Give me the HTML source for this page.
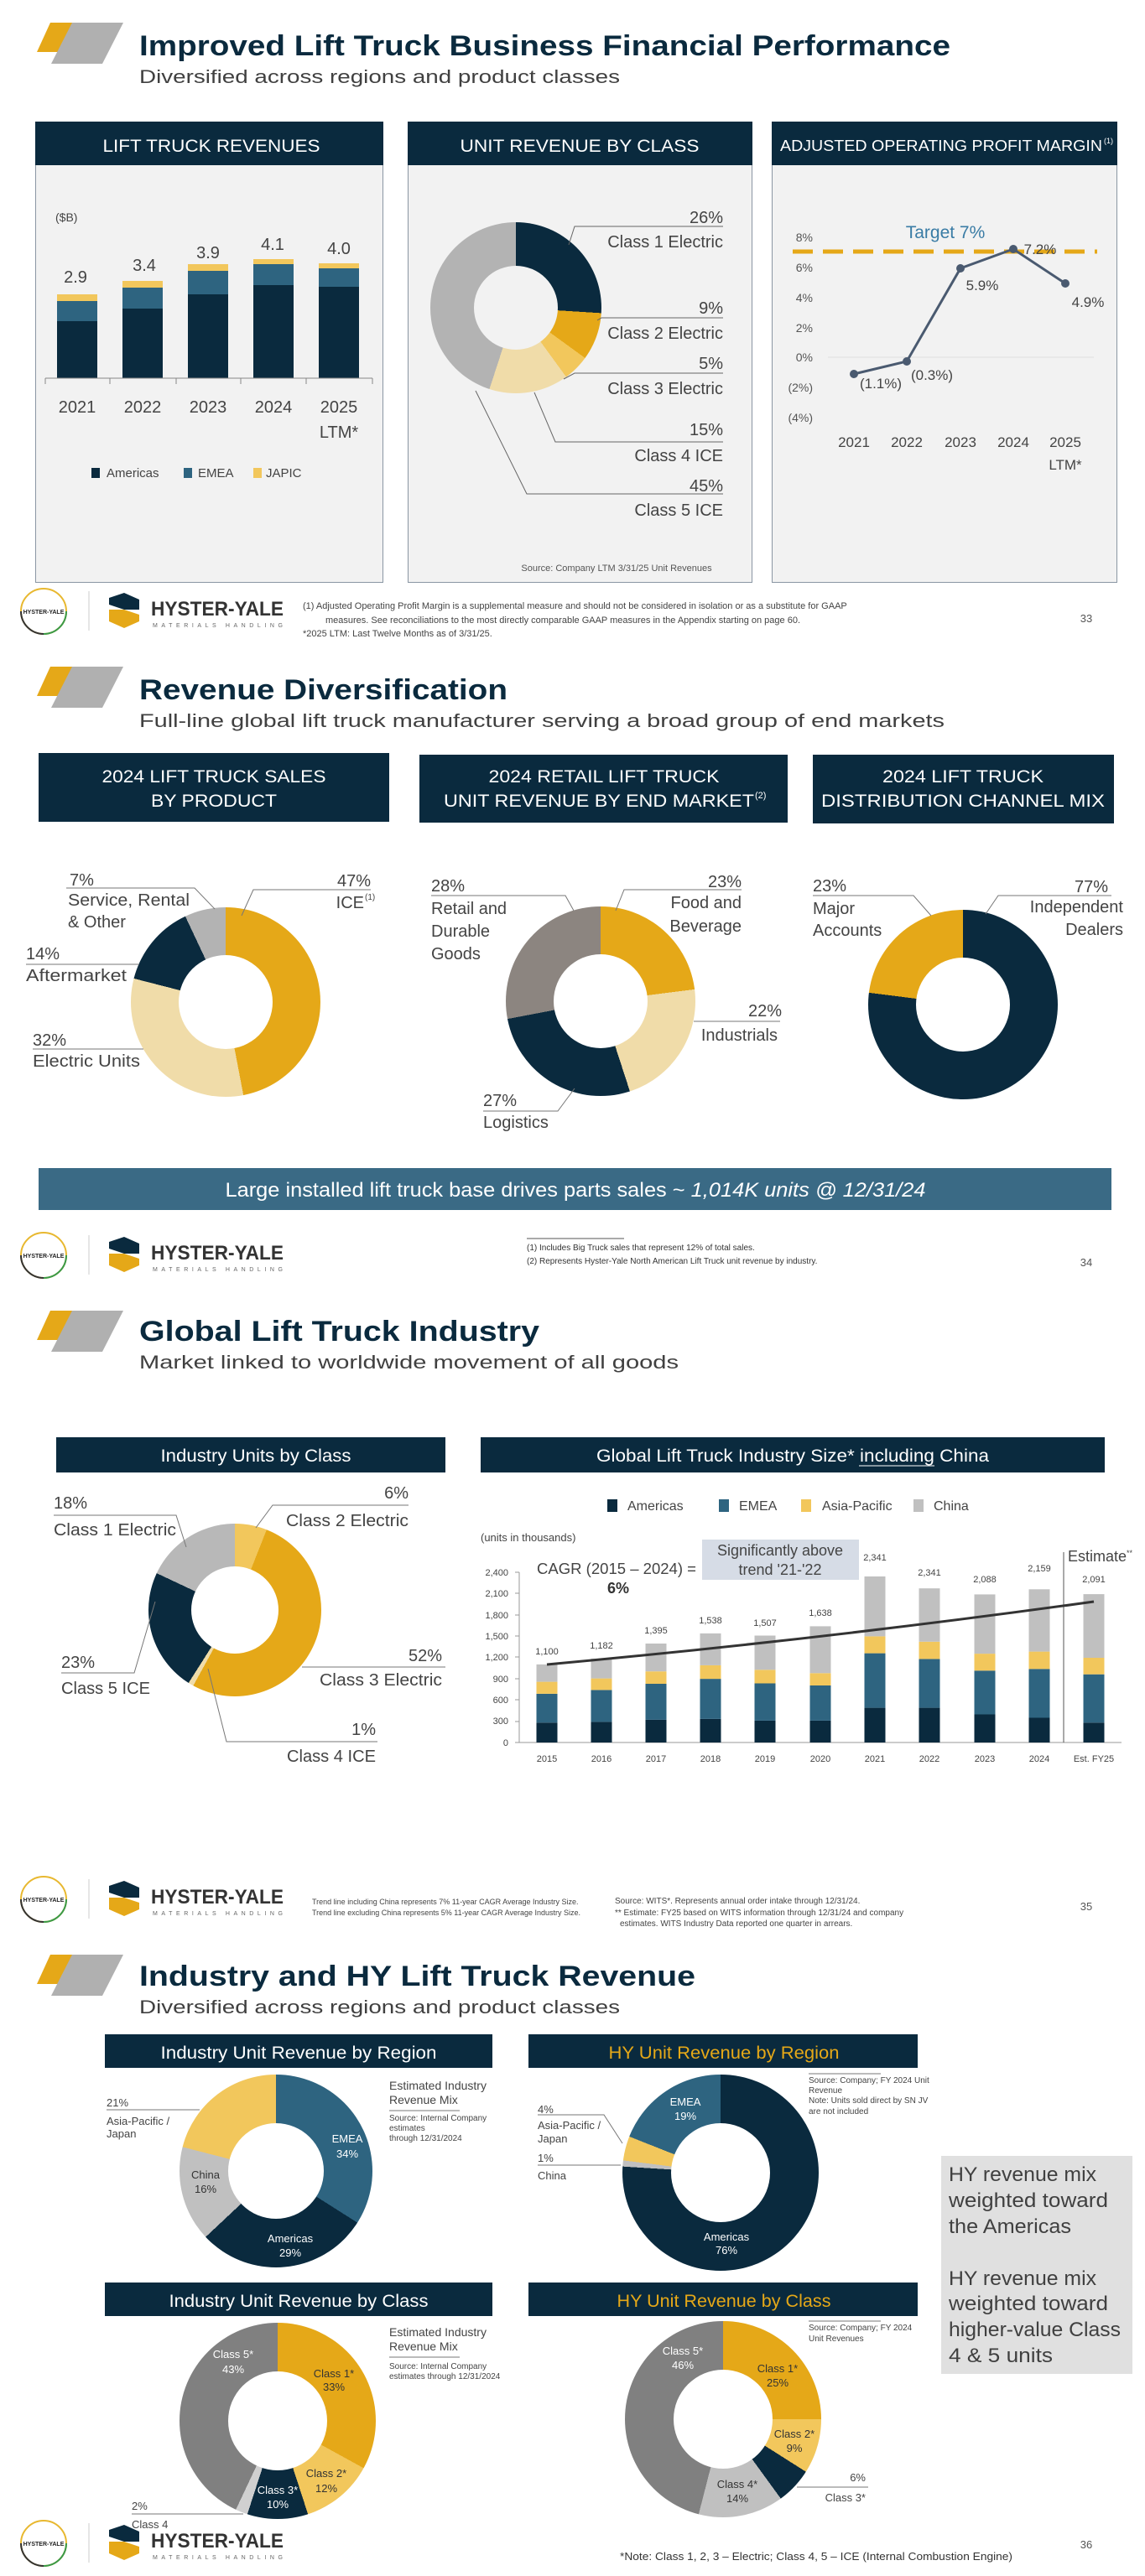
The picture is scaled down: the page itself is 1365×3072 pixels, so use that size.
<!DOCTYPE html>
<html><head><meta charset="utf-8"><style>
html,body{margin:0;padding:0;background:#fff;}
body{position:relative;width:1365px;height:3072px;overflow:hidden;font-family:"Liberation Sans",sans-serif;}
.p{position:absolute;background:#f2f2f2;border:1px solid #8a96a3;box-sizing:border-box;z-index:0}
.d{position:absolute;border-radius:50%;z-index:1}
.h{position:absolute;border-radius:50%;background:#fff;z-index:1}
svg{position:absolute;left:0;top:0;z-index:2}
</style></head><body>
<div class="p" style="left:42px;top:145px;width:415px;height:550px"></div>
<div class="p" style="left:486px;top:145px;width:411px;height:550px"></div>
<div class="p" style="left:920px;top:145px;width:412px;height:550px"></div>

<div class="d" style="left:513px;top:265px;width:204px;height:204px;background:conic-gradient(#0a2a3e 0 26%,#e5a818 0 35%,#f2c75c 0 40%,#f0dca9 0 55%,#b3b3b3 0 100%)"></div>
<div class="h" style="left:565px;top:317px;width:100px;height:100px;background:#f2f2f2"></div>

<div class="d" style="left:156px;top:1082px;width:226px;height:226px;background:conic-gradient(#e5a818 0 47%,#f0dca9 0 79%,#0a2a3e 0 93%,#b3b3b3 0 100%)"></div>
<div class="h" style="left:213px;top:1139px;width:112px;height:112px"></div>
<div class="d" style="left:603px;top:1081px;width:226px;height:226px;background:conic-gradient(#e5a818 0 23%,#f0dca9 0 45%,#0a2a3e 0 72%,#8c8580 0 100%)"></div>
<div class="h" style="left:660px;top:1138px;width:112px;height:112px"></div>
<div class="d" style="left:1035px;top:1085px;width:226px;height:226px;background:conic-gradient(#0a2a3e 0 77%,#e5a818 0 100%)"></div>
<div class="h" style="left:1092px;top:1142px;width:112px;height:112px"></div>

<div class="d" style="left:177px;top:1817px;width:206px;height:206px;background:conic-gradient(#f2c75c 0 6%,#e5a818 0 58%,#f0dca9 0 59%,#0a2a3e 0 82%,#b8b8b8 0 100%)"></div>
<div class="h" style="left:228px;top:1868px;width:104px;height:104px"></div>

<div class="d" style="left:214px;top:2474px;width:230px;height:230px;background:conic-gradient(#2e6480 0 34%,#0a2a3e 0 63%,#c0c0c0 0 79%,#f2c75c 0 100%)"></div>
<div class="h" style="left:272px;top:2532px;width:114px;height:114px"></div>
<div class="d" style="left:742px;top:2474px;width:234px;height:234px;background:conic-gradient(#0a2a3e 0 76%,#c0c0c0 0 77%,#f2c75c 0 81%,#2e6480 0 100%)"></div>
<div class="h" style="left:800px;top:2532px;width:118px;height:118px"></div>
<div class="d" style="left:214px;top:2770px;width:234px;height:234px;background:conic-gradient(#e5a818 0 33%,#f2c75c 0 45%,#0a2a3e 0 55%,#d0d0d0 0 57%,#808080 0 100%)"></div>
<div class="h" style="left:272px;top:2828px;width:118px;height:118px"></div>
<div class="d" style="left:745px;top:2768px;width:234px;height:234px;background:conic-gradient(#e5a818 0 25%,#f2c75c 0 34%,#0a2a3e 0 40%,#c0c0c0 0 54%,#808080 0 100%)"></div>
<div class="h" style="left:803px;top:2826px;width:118px;height:118px"></div>

<svg width="1365" height="3072" viewBox="0 0 1365 3072" font-family="Liberation Sans, sans-serif">
<!-- ===== headers (4 slides) ===== -->
<g id="hd">
<polygon points="60,27 92,27 76,62 44,62" fill="#e5a818"/>
<polygon points="86,27 147,27 122,76 61,76" fill="#b0b0b0"/>
</g>
<g transform="translate(0,768)"><polygon points="60,27 92,27 76,62 44,62" fill="#e5a818"/><polygon points="86,27 147,27 122,76 61,76" fill="#b0b0b0"/></g>
<g transform="translate(0,1536)"><polygon points="60,27 92,27 76,62 44,62" fill="#e5a818"/><polygon points="86,27 147,27 122,76 61,76" fill="#b0b0b0"/></g>
<g transform="translate(0,2304)"><polygon points="60,27 92,27 76,62 44,62" fill="#e5a818"/><polygon points="86,27 147,27 122,76 61,76" fill="#b0b0b0"/></g>

<g fill="#0a2a3e" font-weight="bold" font-size="34">
<text x="166" y="66" textLength="967" lengthAdjust="spacingAndGlyphs">Improved Lift Truck Business Financial Performance</text>
<text x="166" y="834" textLength="439" lengthAdjust="spacingAndGlyphs">Revenue Diversification</text>
<text x="166" y="1599" textLength="477" lengthAdjust="spacingAndGlyphs">Global Lift Truck Industry</text>
<text x="166" y="2368" textLength="663" lengthAdjust="spacingAndGlyphs">Industry and HY Lift Truck Revenue</text>
</g>
<g fill="#404040" font-size="22">
<text x="166" y="99" textLength="573" lengthAdjust="spacingAndGlyphs">Diversified across regions and product classes</text>
<text x="166" y="867" textLength="960" lengthAdjust="spacingAndGlyphs">Full-line global lift truck manufacturer serving a broad group of end markets</text>
<text x="166" y="1632" textLength="643" lengthAdjust="spacingAndGlyphs">Market linked to worldwide movement of all goods</text>
<text x="166" y="2401" textLength="573" lengthAdjust="spacingAndGlyphs">Diversified across regions and product classes</text>
</g>

<!-- ===== footers ===== -->
<g id="ft0">
<circle cx="52" cy="729" r="27" fill="none" stroke="#e8b830" stroke-width="2"/>
<path d="M79 729 A27 27 0 0 1 52 756" fill="none" stroke="#3a9a48" stroke-width="2"/>
<path d="M52 756 A27 27 0 0 1 25 729" fill="none" stroke="#333" stroke-width="2"/>
<text x="52" y="732" font-size="7" font-weight="bold" text-anchor="middle" fill="#222">HYSTER-YALE</text>
<line x1="106" y1="705" x2="106" y2="752" stroke="#ccc"/>
<polygon points="148,707 166,715 166,727 148,727 130,721 130,713" fill="#0a2a3e"/>
<polygon points="130,727 148,727 166,733 166,741 148,749 130,741" fill="#e5a818"/>
<text x="180" y="734" font-size="24" font-weight="bold" fill="#333" textLength="158" lengthAdjust="spacingAndGlyphs">HYSTER-YALE</text>
<text x="182" y="748" font-size="7" fill="#666" textLength="155" lengthAdjust="spacing">MATERIALS HANDLING</text>
</g>
<g transform="translate(0,768)">
<circle cx="52" cy="729" r="27" fill="none" stroke="#e8b830" stroke-width="2"/>
<path d="M79 729 A27 27 0 0 1 52 756" fill="none" stroke="#3a9a48" stroke-width="2"/>
<path d="M52 756 A27 27 0 0 1 25 729" fill="none" stroke="#333" stroke-width="2"/>
<text x="52" y="732" font-size="7" font-weight="bold" text-anchor="middle" fill="#222">HYSTER-YALE</text>
<line x1="106" y1="705" x2="106" y2="752" stroke="#ccc"/>
<polygon points="148,707 166,715 166,727 148,727 130,721 130,713" fill="#0a2a3e"/>
<polygon points="130,727 148,727 166,733 166,741 148,749 130,741" fill="#e5a818"/>
<text x="180" y="734" font-size="24" font-weight="bold" fill="#333" textLength="158" lengthAdjust="spacingAndGlyphs">HYSTER-YALE</text>
<text x="182" y="748" font-size="7" fill="#666" textLength="155" lengthAdjust="spacing">MATERIALS HANDLING</text>
</g>
<g transform="translate(0,1536)">
<circle cx="52" cy="729" r="27" fill="none" stroke="#e8b830" stroke-width="2"/>
<path d="M79 729 A27 27 0 0 1 52 756" fill="none" stroke="#3a9a48" stroke-width="2"/>
<path d="M52 756 A27 27 0 0 1 25 729" fill="none" stroke="#333" stroke-width="2"/>
<text x="52" y="732" font-size="7" font-weight="bold" text-anchor="middle" fill="#222">HYSTER-YALE</text>
<line x1="106" y1="705" x2="106" y2="752" stroke="#ccc"/>
<polygon points="148,707 166,715 166,727 148,727 130,721 130,713" fill="#0a2a3e"/>
<polygon points="130,727 148,727 166,733 166,741 148,749 130,741" fill="#e5a818"/>
<text x="180" y="734" font-size="24" font-weight="bold" fill="#333" textLength="158" lengthAdjust="spacingAndGlyphs">HYSTER-YALE</text>
<text x="182" y="748" font-size="7" fill="#666" textLength="155" lengthAdjust="spacing">MATERIALS HANDLING</text>
</g>
<g transform="translate(0,2304)">
<circle cx="52" cy="729" r="27" fill="none" stroke="#e8b830" stroke-width="2"/>
<path d="M79 729 A27 27 0 0 1 52 756" fill="none" stroke="#3a9a48" stroke-width="2"/>
<path d="M52 756 A27 27 0 0 1 25 729" fill="none" stroke="#333" stroke-width="2"/>
<text x="52" y="732" font-size="7" font-weight="bold" text-anchor="middle" fill="#222">HYSTER-YALE</text>
<line x1="106" y1="705" x2="106" y2="752" stroke="#ccc"/>
<polygon points="148,707 166,715 166,727 148,727 130,721 130,713" fill="#0a2a3e"/>
<polygon points="130,727 148,727 166,733 166,741 148,749 130,741" fill="#e5a818"/>
<text x="180" y="734" font-size="24" font-weight="bold" fill="#333" textLength="158" lengthAdjust="spacingAndGlyphs">HYSTER-YALE</text>
<text x="182" y="748" font-size="7" fill="#666" textLength="155" lengthAdjust="spacing">MATERIALS HANDLING</text>
</g>
<g font-size="13" fill="#555" text-anchor="middle">
<text x="1295" y="742">33</text><text x="1295" y="1510">34</text><text x="1295" y="2278">35</text><text x="1295" y="3039">36</text>
</g>

<!-- ===== SLIDE 1 ===== -->
<rect x="42" y="145" width="415" height="52" fill="#0a2a3e"/>
<rect x="486" y="145" width="411" height="52" fill="#0a2a3e"/>
<rect x="920" y="145" width="412" height="52" fill="#0a2a3e"/>
<g fill="#fff" font-size="21" text-anchor="middle">
<text x="252" y="181" textLength="259" lengthAdjust="spacingAndGlyphs">LIFT TRUCK REVENUES</text>
<text x="691" y="181" textLength="285" lengthAdjust="spacingAndGlyphs">UNIT REVENUE BY CLASS</text>
<text x="1122" y="180" font-size="18" textLength="384" lengthAdjust="spacingAndGlyphs">ADJUSTED OPERATING PROFIT MARGIN</text>
</g>
<text x="1316" y="171" fill="#fff" font-size="9">(1)</text>
<text x="66" y="264" font-size="14" fill="#444">($B)</text>
<g>
<rect x="68" y="351" width="48" height="8" fill="#f2c75c"/><rect x="68" y="359" width="48" height="24" fill="#2e6480"/><rect x="68" y="383" width="48" height="68" fill="#0a2a3e"/>
<rect x="146" y="335" width="48" height="8" fill="#f2c75c"/><rect x="146" y="343" width="48" height="25" fill="#2e6480"/><rect x="146" y="368" width="48" height="83" fill="#0a2a3e"/>
<rect x="224" y="315" width="48" height="8" fill="#f2c75c"/><rect x="224" y="323" width="48" height="28" fill="#2e6480"/><rect x="224" y="351" width="48" height="100" fill="#0a2a3e"/>
<rect x="302" y="309" width="48" height="6" fill="#f2c75c"/><rect x="302" y="315" width="48" height="25" fill="#2e6480"/><rect x="302" y="340" width="48" height="111" fill="#0a2a3e"/>
<rect x="380" y="314" width="48" height="6" fill="#f2c75c"/><rect x="380" y="320" width="48" height="22" fill="#2e6480"/><rect x="380" y="342" width="48" height="109" fill="#0a2a3e"/>
</g>
<path d="M54 451H444M54 451v7M131 451v7M210 451v7M287 451v7M365 451v7M444 451v7" stroke="#888" fill="none"/>
<g font-size="20" fill="#444" text-anchor="middle">
<text x="90" y="337">2.9</text><text x="172" y="323">3.4</text><text x="248" y="308">3.9</text><text x="325" y="298">4.1</text><text x="404" y="303">4.0</text>
<text x="92" y="492">2021</text><text x="170" y="492">2022</text><text x="248" y="492">2023</text><text x="326" y="492">2024</text><text x="404" y="492">2025</text><text x="404" y="522">LTM*</text>
</g>
<rect x="109" y="558" width="10" height="12" fill="#0a2a3e"/><rect x="219" y="558" width="10" height="12" fill="#2e6480"/><rect x="302" y="558" width="10" height="12" fill="#f2c75c"/>
<g font-size="15" fill="#444"><text x="127" y="569">Americas</text><text x="236" y="569">EMEA</text><text x="317" y="569">JAPIC</text></g>
<!-- donut labels -->
<g stroke="#666" fill="none" stroke-width="1">
<path d="M862 270H685L678 292"/><path d="M862 379H717L712 382"/><path d="M862 445H685L672 452"/><path d="M862 527H662L637 468"/><path d="M862 589H628L567 466"/>
</g>
<g font-size="20" fill="#444" text-anchor="end">
<text x="862" y="266">26%</text><text x="862" y="295">Class 1 Electric</text>
<text x="862" y="374">9%</text><text x="862" y="404">Class 2 Electric</text>
<text x="862" y="440">5%</text><text x="862" y="470">Class 3 Electric</text>
<text x="862" y="519">15%</text><text x="862" y="550">Class 4 ICE</text>
<text x="862" y="586">45%</text><text x="862" y="615">Class 5 ICE</text>
</g>
<text x="735" y="681" font-size="11" fill="#555" text-anchor="middle">Source: Company LTM 3/31/25 Unit Revenues</text>
<!-- line chart -->
<line x1="987" y1="426" x2="1304" y2="426" stroke="#ddd"/>
<line x1="945" y1="300" x2="1308" y2="300" stroke="#e5a818" stroke-width="5" stroke-dasharray="24,12"/>
<g font-size="14" fill="#555" text-anchor="end">
<text x="969" y="288">8%</text><text x="969" y="324">6%</text><text x="969" y="360">4%</text><text x="969" y="396">2%</text><text x="969" y="431">0%</text><text x="969" y="467">(2%)</text><text x="969" y="503">(4%)</text>
</g>
<text x="1127" y="284" font-size="21" fill="#3a7ca5" text-anchor="middle">Target 7%</text>
<polyline points="1018,446 1081,431 1145,320 1208,297 1270,338" fill="none" stroke="#4a5a70" stroke-width="3"/>
<g fill="#4a5a70"><circle cx="1018" cy="446" r="5"/><circle cx="1081" cy="431" r="5"/><circle cx="1145" cy="320" r="5"/><circle cx="1208" cy="297" r="5"/><circle cx="1270" cy="338" r="5"/></g>
<g font-size="17" fill="#444" text-anchor="middle">
<text x="1050" y="463">(1.1%)</text><text x="1111" y="453">(0.3%)</text><text x="1171" y="346">5.9%</text><text x="1240" y="303">7.2%</text><text x="1297" y="366">4.9%</text>
<text x="1018" y="533">2021</text><text x="1081" y="533">2022</text><text x="1145" y="533">2023</text><text x="1208" y="533">2024</text><text x="1270" y="533">2025</text><text x="1270" y="560">LTM*</text>
</g>
<g font-size="11" fill="#444">
<text x="361" y="726">(1)  Adjusted Operating Profit Margin is a supplemental measure and should not be considered in isolation or as a substitute for GAAP</text>
<text x="388" y="743">measures. See reconciliations to the most directly comparable GAAP measures in the Appendix starting on page 60.</text>
<text x="361" y="759">*2025 LTM: Last Twelve Months as of 3/31/25.</text>
</g>

<!-- ===== SLIDE 2 ===== -->
<rect x="46" y="898" width="418" height="82" fill="#0a2a3e"/>
<rect x="500" y="900" width="439" height="81" fill="#0a2a3e"/>
<rect x="969" y="900" width="359" height="82" fill="#0a2a3e"/>
<g fill="#fff" font-size="21" text-anchor="middle">
<text x="255" y="933" textLength="267" lengthAdjust="spacingAndGlyphs">2024 LIFT TRUCK SALES</text>
<text x="255" y="962" textLength="150" lengthAdjust="spacingAndGlyphs">BY PRODUCT</text>
<text x="720" y="933" textLength="275" lengthAdjust="spacingAndGlyphs">2024 RETAIL LIFT TRUCK</text>
<text x="714" y="962" textLength="370" lengthAdjust="spacingAndGlyphs">UNIT REVENUE BY END MARKET</text>
<text x="1148" y="933" textLength="192" lengthAdjust="spacingAndGlyphs">2024 LIFT TRUCK</text>
<text x="1148" y="962" textLength="338" lengthAdjust="spacingAndGlyphs">DISTRIBUTION CHANNEL MIX</text>
</g>
<text x="900" y="952" fill="#fff" font-size="11">(2)</text>
<g stroke="#777" fill="none">
<path d="M79 1059H232L256 1084"/><path d="M442 1061H302L288 1092"/><path d="M31 1150H166"/><path d="M39 1251H171"/>
<path d="M884 1061H744L734 1086"/><path d="M514 1068H674L684 1086"/><path d="M827 1218H930"/><path d="M576 1325H665L685 1298"/>
<path d="M969 1068H1089L1110 1092"/><path d="M1325 1068H1190L1175 1090"/>
</g>
<g font-size="20" fill="#444">
<text x="83" y="1056">7%</text><text x="81" y="1080" textLength="145" lengthAdjust="spacingAndGlyphs">Service, Rental</text><text x="81" y="1106">&amp; Other</text>
<text x="31" y="1144">14%</text><text x="31" y="1170" textLength="120" lengthAdjust="spacingAndGlyphs">Aftermarket</text>
<text x="39" y="1247">32%</text><text x="39" y="1272" textLength="128" lengthAdjust="spacingAndGlyphs">Electric Units</text>
<text x="514" y="1063">28%</text><text x="514" y="1090">Retail and</text><text x="514" y="1117">Durable</text><text x="514" y="1144">Goods</text>
<text x="576" y="1319">27%</text><text x="576" y="1345">Logistics</text>
<text x="969" y="1063">23%</text><text x="969" y="1090">Major</text><text x="969" y="1116">Accounts</text>
</g>
<g font-size="20" fill="#444" text-anchor="end">
<text x="442" y="1057">47%</text><text x="434" y="1083">ICE</text>
<text x="884" y="1058">23%</text><text x="884" y="1083">Food and</text><text x="884" y="1111">Beverage</text>
<text x="932" y="1212">22%</text><text x="927" y="1241">Industrials</text>
<text x="1321" y="1064">77%</text><text x="1339" y="1088">Independent</text><text x="1339" y="1115">Dealers</text>
</g>
<text x="435" y="1073" font-size="10" fill="#444">(1)</text>
<rect x="46" y="1393" width="1279" height="50" fill="#3a6a85"/>
<text x="686" y="1427" font-size="24" fill="#fff" text-anchor="middle" textLength="835" lengthAdjust="spacingAndGlyphs">Large installed lift truck base drives parts sales ~ <tspan font-style="italic">1,014K units @ 12/31/24</tspan></text>
<line x1="628" y1="1477" x2="744" y2="1477" stroke="#555"/>
<g font-size="10" fill="#333">
<text x="628" y="1491">(1)   Includes Big Truck sales that represent 12% of total sales.</text>
<text x="628" y="1507">(2)   Represents Hyster-Yale North American Lift Truck unit revenue by industry.</text>
</g>

<!-- ===== SLIDE 3 ===== -->
<rect x="67" y="1714" width="464" height="42" fill="#0a2a3e"/>
<rect x="573" y="1714" width="744" height="42" fill="#0a2a3e"/>
<g fill="#fff" font-size="21" text-anchor="middle">
<text x="305" y="1743" textLength="227" lengthAdjust="spacingAndGlyphs">Industry Units by Class</text>
<text x="945" y="1743" textLength="468" lengthAdjust="spacingAndGlyphs">Global Lift Truck Industry Size* including China</text>
</g>
<line x1="1024" y1="1748" x2="1114" y2="1748" stroke="#fff"/>
<g stroke="#777" fill="none">
<path d="M64 1807H210L222 1845"/><path d="M487 1795H325L305 1822"/><path d="M531 1988H360"/><path d="M450 2077H270L248 1990"/><path d="M73 1995H160L185 1910"/>
</g>
<g font-size="20" fill="#444">
<text x="64" y="1799">18%</text><text x="64" y="1831" textLength="146" lengthAdjust="spacingAndGlyphs">Class 1 Electric</text>
<text x="73" y="1989">23%</text><text x="73" y="2020" textLength="106" lengthAdjust="spacingAndGlyphs">Class 5 ICE</text>
</g>
<g font-size="20" fill="#444" text-anchor="end">
<text x="487" y="1787">6%</text><text x="487" y="1820" textLength="146" lengthAdjust="spacingAndGlyphs">Class 2 Electric</text>
<text x="527" y="1981">52%</text><text x="527" y="2010" textLength="146" lengthAdjust="spacingAndGlyphs">Class 3 Electric</text>
<text x="448" y="2069">1%</text><text x="448" y="2101" textLength="106" lengthAdjust="spacingAndGlyphs">Class 4 ICE</text>
</g>
<!-- legend -->
<rect x="724" y="1788" width="12" height="15" fill="#0a2a3e"/><rect x="857" y="1788" width="12" height="15" fill="#2e6480"/><rect x="955" y="1788" width="12" height="15" fill="#f2c75c"/><rect x="1089" y="1788" width="12" height="15" fill="#c0c0c0"/>
<g font-size="16" fill="#444"><text x="748" y="1801">Americas</text><text x="881" y="1801">EMEA</text><text x="980" y="1801">Asia-Pacific</text><text x="1113" y="1801">China</text></g>
<text x="573" y="1838" font-size="13" fill="#444">(units in thousands)</text>
<g font-size="11" fill="#444" text-anchor="end">
<text x="606" y="1879">2,400</text><text x="606" y="1904">2,100</text><text x="606" y="1930">1,800</text><text x="606" y="1955">1,500</text><text x="606" y="1980">1,200</text><text x="606" y="2006">900</text><text x="606" y="2031">600</text><text x="606" y="2056">300</text><text x="606" y="2082">0</text>
</g>
<path d="M619 1875V2078M614 1875h5M614 1900h5M614 1926h5M614 1951h5M614 1976h5M614 2002h5M614 2027h5M614 2053h5M614 2078h5M619 2078H1337" stroke="#999" fill="none"/>
<g>
<rect x="639.5" y="2054.3" width="25" height="23.7" fill="#0a2a3e"/><rect x="639.5" y="2019.9" width="25" height="34.4" fill="#2e6480"/><rect x="639.5" y="2005.6" width="25" height="14.3" fill="#f2c75c"/><rect x="639.5" y="1984.9" width="25" height="20.7" fill="#c0c0c0"/>
<rect x="704.5" y="2053.4" width="25" height="24.6" fill="#0a2a3e"/><rect x="704.5" y="2015.4" width="25" height="38" fill="#2e6480"/><rect x="704.5" y="2001.6" width="25" height="13.8" fill="#f2c75c"/><rect x="704.5" y="1978" width="25" height="23.6" fill="#c0c0c0"/>
<rect x="769.5" y="2050.9" width="25" height="27.1" fill="#0a2a3e"/><rect x="769.5" y="2008" width="25" height="42.9" fill="#2e6480"/><rect x="769.5" y="1993.2" width="25" height="14.8" fill="#f2c75c"/><rect x="769.5" y="1960" width="25" height="33.2" fill="#c0c0c0"/>
<rect x="834.5" y="2049.9" width="25" height="28.1" fill="#0a2a3e"/><rect x="834.5" y="2002.1" width="25" height="47.8" fill="#2e6480"/><rect x="834.5" y="1985.9" width="25" height="16.2" fill="#f2c75c"/><rect x="834.5" y="1947.9" width="25" height="38" fill="#c0c0c0"/>
<rect x="899.5" y="2051.9" width="25" height="26.1" fill="#0a2a3e"/><rect x="899.5" y="2007.5" width="25" height="44.4" fill="#2e6480"/><rect x="899.5" y="1991.3" width="25" height="16.2" fill="#f2c75c"/><rect x="899.5" y="1950.5" width="25" height="40.8" fill="#c0c0c0"/>
<rect x="965.5" y="2051.9" width="25" height="26.1" fill="#0a2a3e"/><rect x="965.5" y="2010" width="25" height="41.9" fill="#2e6480"/><rect x="965.5" y="1995.3" width="25" height="14.7" fill="#f2c75c"/><rect x="965.5" y="1939.4" width="25" height="55.9" fill="#c0c0c0"/>
<rect x="1030.5" y="2036.6" width="25" height="41.4" fill="#0a2a3e"/><rect x="1030.5" y="1971.6" width="25" height="65" fill="#2e6480"/><rect x="1030.5" y="1951.4" width="25" height="20.2" fill="#f2c75c"/><rect x="1030.5" y="1880" width="25" height="71.4" fill="#c0c0c0"/>
<rect x="1095.5" y="2036.6" width="25" height="41.4" fill="#0a2a3e"/><rect x="1095.5" y="1978.4" width="25" height="58.2" fill="#2e6480"/><rect x="1095.5" y="1957.8" width="25" height="20.6" fill="#f2c75c"/><rect x="1095.5" y="1894.2" width="25" height="63.6" fill="#c0c0c0"/>
<rect x="1161.5" y="2044.5" width="25" height="33.5" fill="#0a2a3e"/><rect x="1161.5" y="1992.3" width="25" height="52.2" fill="#2e6480"/><rect x="1161.5" y="1972.1" width="25" height="20.2" fill="#f2c75c"/><rect x="1161.5" y="1901.4" width="25" height="70.7" fill="#c0c0c0"/>
<rect x="1226.5" y="2048.5" width="25" height="29.5" fill="#0a2a3e"/><rect x="1226.5" y="1990.3" width="25" height="58.2" fill="#2e6480"/><rect x="1226.5" y="1969.6" width="25" height="20.7" fill="#f2c75c"/><rect x="1226.5" y="1895.3" width="25" height="74.3" fill="#c0c0c0"/>
<rect x="1291.5" y="2054.3" width="25" height="23.7" fill="#0a2a3e"/><rect x="1291.5" y="1996.7" width="25" height="57.6" fill="#2e6480"/><rect x="1291.5" y="1977" width="25" height="19.7" fill="#f2c75c"/><rect x="1291.5" y="1901.1" width="25" height="75.9" fill="#c0c0c0"/>
</g>
<line x1="1268" y1="1851" x2="1268" y2="2078" stroke="#555"/>
<path d="M652 1985 Q 980 1955 1304 1910" stroke="#333" stroke-width="3" fill="none"/>
<g font-size="11" fill="#444" text-anchor="middle">
<text x="652" y="1973">1,100</text><text x="717" y="1966">1,182</text><text x="782" y="1948">1,395</text><text x="847" y="1936">1,538</text><text x="912" y="1939">1,507</text><text x="978" y="1927">1,638</text><text x="1043" y="1861">2,341</text><text x="1108" y="1879">2,341</text><text x="1174" y="1887">2,088</text><text x="1239" y="1874">2,159</text><text x="1304" y="1887">2,091</text>
<text x="652" y="2101">2015</text><text x="717" y="2101">2016</text><text x="782" y="2101">2017</text><text x="847" y="2101">2018</text><text x="912" y="2101">2019</text><text x="978" y="2101">2020</text><text x="1043" y="2101">2021</text><text x="1108" y="2101">2022</text><text x="1174" y="2101">2023</text><text x="1239" y="2101">2024</text><text x="1304" y="2101">Est. FY25</text>
</g>
<text x="1273" y="1862" font-size="18" fill="#444">Estimate<tspan font-size="9" dy="-7">**</tspan></text>
<text x="640" y="1877" font-size="18" fill="#444" textLength="190" lengthAdjust="spacingAndGlyphs">CAGR (2015 – 2024) =</text>
<text x="737" y="1900" font-size="18" font-weight="bold" fill="#333" text-anchor="middle">6%</text>
<rect x="837" y="1836" width="187" height="48" fill="#d6dce6"/>
<g font-size="18" fill="#444" text-anchor="middle"><text x="930" y="1855">Significantly above</text><text x="930" y="1878">trend '21-'22</text></g>
<g font-size="9" fill="#444">
<text x="372" y="2271">Trend line including China represents 7% 11-year CAGR Average Industry Size.</text>
<text x="372" y="2284">Trend line excluding China represents 5% 11-year CAGR Average Industry Size.</text>
<text x="733" y="2270" font-size="10">Source:  WITS*.  Represents annual order intake through 12/31/24.</text>
<text x="733" y="2284" font-size="10">** Estimate:  FY25 based on WITS information through 12/31/24 and company</text>
<text x="739" y="2297" font-size="10">estimates. WITS Industry Data reported one quarter in arrears.</text>
</g>

<!-- ===== SLIDE 4 ===== -->
<rect x="125" y="2426" width="462" height="40" fill="#0a2a3e"/>
<rect x="630" y="2426" width="464" height="40" fill="#0a2a3e"/>
<rect x="125" y="2722" width="462" height="40" fill="#0a2a3e"/>
<rect x="630" y="2722" width="464" height="40" fill="#0a2a3e"/>
<g font-size="21" text-anchor="middle">
<text x="356" y="2455" fill="#fff" textLength="329" lengthAdjust="spacingAndGlyphs">Industry Unit Revenue by Region</text>
<text x="863" y="2455" fill="#e5a818" textLength="275" lengthAdjust="spacingAndGlyphs">HY Unit Revenue by Region</text>
<text x="356" y="2751" fill="#fff" textLength="309" lengthAdjust="spacingAndGlyphs">Industry Unit Revenue by Class</text>
<text x="863" y="2751" fill="#e5a818" textLength="255" lengthAdjust="spacingAndGlyphs">HY Unit Revenue by Class</text>
</g>
<g font-size="13" text-anchor="middle" fill="#fff">
<text x="414" y="2555">EMEA</text><text x="414" y="2573">34%</text>
<text x="346" y="2674">Americas</text><text x="346" y="2691">29%</text>
<text x="817" y="2511">EMEA</text><text x="817" y="2528">19%</text>
<text x="866" y="2672">Americas</text><text x="866" y="2688">76%</text>
<text x="278" y="2812">Class 5*</text><text x="278" y="2830">43%</text>
<text x="331" y="2974">Class 3*</text><text x="331" y="2991">10%</text>
<text x="814" y="2808">Class 5*</text><text x="814" y="2825">46%</text>
</g>
<g font-size="13" text-anchor="middle" fill="#333">
<text x="245" y="2598">China</text><text x="245" y="2615">16%</text>
<text x="398" y="2835">Class 1*</text><text x="398" y="2851">33%</text>
<text x="389" y="2954">Class 2*</text><text x="389" y="2972">12%</text>
<text x="927" y="2829">Class 1*</text><text x="927" y="2846">25%</text>
<text x="947" y="2907">Class 2*</text><text x="947" y="2924">9%</text>
<text x="879" y="2967">Class 4*</text><text x="879" y="2984">14%</text>
</g>
<g stroke="#777" fill="none">
<path d="M127 2516H238"/><path d="M641 2522H720L742 2556"/><path d="M641 2582H740"/><path d="M157 2998H290"/><path d="M1035 2966H950"/>
<path d="M464 2517H548"/><path d="M464 2811H548"/><path d="M964 2473H1050"/><path d="M964 2768H1050"/>
</g>
<g font-size="13" fill="#444">
<text x="127" y="2512">21%</text><text x="127" y="2534">Asia-Pacific /</text><text x="127" y="2549">Japan</text>
<text x="641" y="2520">4%</text><text x="641" y="2539">Asia-Pacific /</text><text x="641" y="2555">Japan</text>
<text x="641" y="2578">1%</text><text x="641" y="2599">China</text>
<text x="157" y="2993">2%</text><text x="157" y="3015">Class 4</text>
<text x="464" y="2492" font-size="14">Estimated Industry</text><text x="464" y="2509" font-size="14">Revenue Mix</text>
<text x="464" y="2786" font-size="14">Estimated Industry</text><text x="464" y="2803" font-size="14">Revenue Mix</text>
</g>
<g font-size="10" fill="#444">
<text x="464" y="2529">Source: Internal Company</text><text x="464" y="2541">estimates</text><text x="464" y="2553">through 12/31/2024</text>
<text x="464" y="2825">Source: Internal Company</text><text x="464" y="2837">estimates through 12/31/2024</text>
<text x="964" y="2484">Source: Company; FY 2024 Unit</text><text x="964" y="2496">Revenue</text><text x="964" y="2508">Note:  Units sold direct by SN JV</text><text x="964" y="2521">are not included</text>
<text x="964" y="2779">Source: Company; FY 2024</text><text x="964" y="2792">Unit Revenues</text>
</g>
<g font-size="13" fill="#444" text-anchor="end"><text x="1032" y="2959">6%</text><text x="1032" y="2983">Class 3*</text></g>
<rect x="1122" y="2571" width="228" height="260" fill="#e0e0e0"/>
<g font-size="24" fill="#404040">
<text x="1131" y="2601" textLength="176" lengthAdjust="spacingAndGlyphs">HY revenue mix</text>
<text x="1131" y="2632" textLength="190" lengthAdjust="spacingAndGlyphs">weighted toward</text>
<text x="1131" y="2663" textLength="146" lengthAdjust="spacingAndGlyphs">the Americas</text>
<text x="1131" y="2725" textLength="176" lengthAdjust="spacingAndGlyphs">HY revenue mix</text>
<text x="1131" y="2755" textLength="190" lengthAdjust="spacingAndGlyphs">weighted toward</text>
<text x="1131" y="2786" textLength="205" lengthAdjust="spacingAndGlyphs">higher-value Class</text>
<text x="1131" y="2817" textLength="124" lengthAdjust="spacingAndGlyphs">4 &amp; 5 units</text>
</g>
<text x="739" y="3053" font-size="13" fill="#333" textLength="468" lengthAdjust="spacingAndGlyphs">*Note: Class 1, 2, 3 – Electric;  Class 4, 5 – ICE (Internal Combustion Engine)</text>
</svg>
</body></html>
